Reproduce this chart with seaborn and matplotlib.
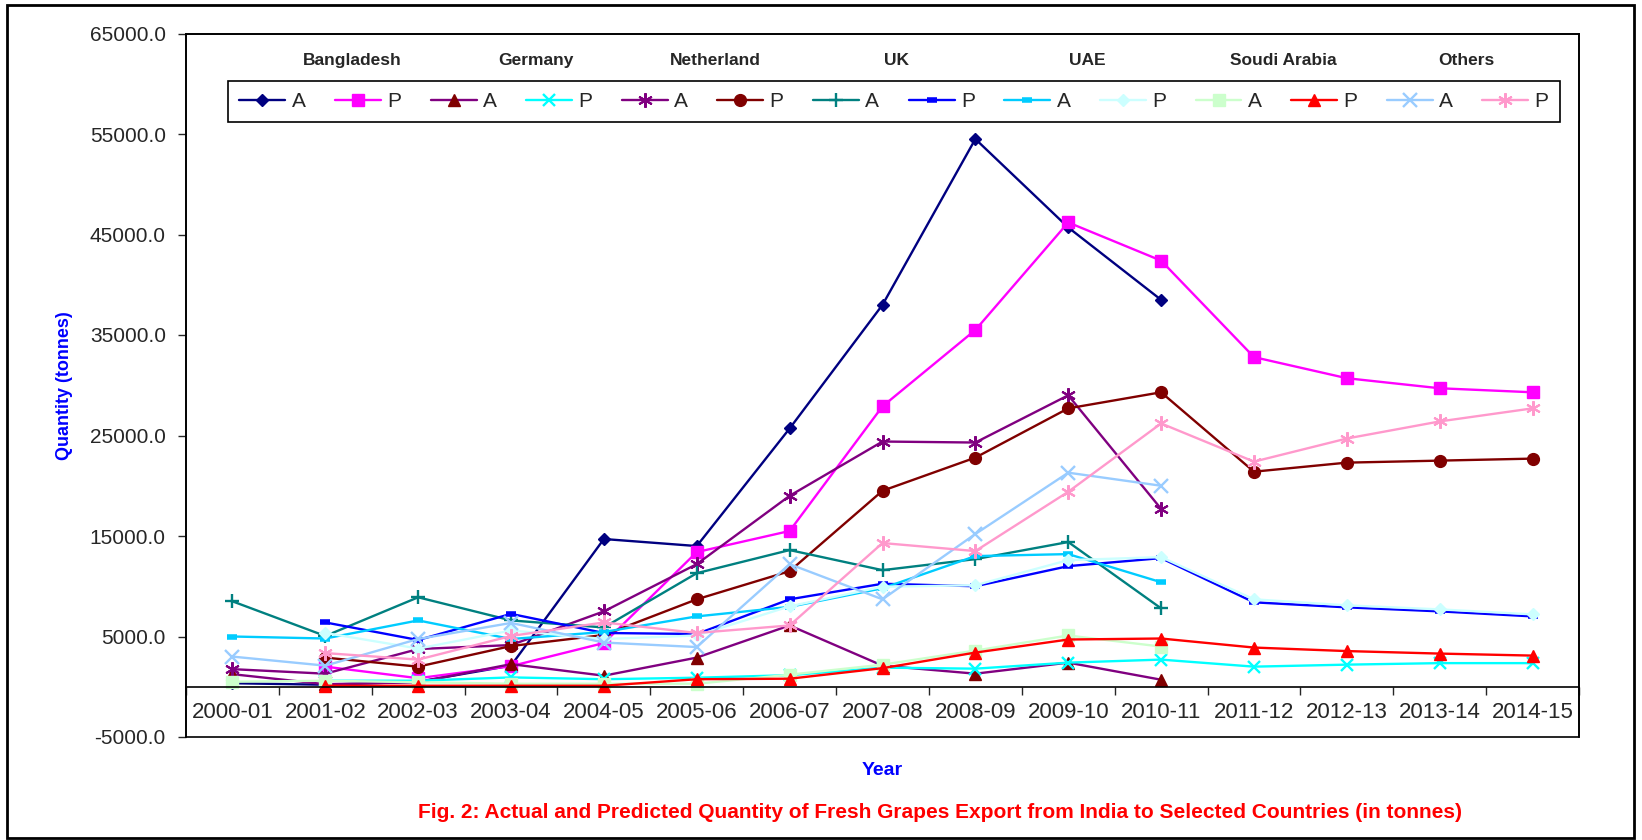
import numpy as np
import seaborn as sns
import matplotlib.pyplot as plt
from matplotlib.patches import Rectangle
from matplotlib.ticker import FormatStrFormatter

nan = np.nan

# data (tonnes)
years = ['2000-01', '2001-02', '2002-03', '2003-04', '2004-05', '2005-06', '2006-07',
         '2007-08', '2008-09', '2009-10', '2010-11', '2011-12', '2012-13', '2013-14', '2014-15']
countries = ['Bangladesh', 'Germany', 'Netherland', 'UK', 'UAE', 'Soudi Arabia', 'Others']

bangladesh_actual = [350, 200, 500, 2100, 14700, 14000, 25700, 38000, 54500, 45700, 38500, nan, nan, nan, nan]
bangladesh_pred = [nan, 2000, 850, 2050, 4350, 13400, 15500, 27900, 35500, 46200, 42400, 32800, 30700, 29700, 29300]
germany_actual = [1250, 250, 450, 2250, 1100, 2900, 6100, 2100, 1300, 2400, 700, nan, nan, nan, nan]
germany_pred = [nan, 600, 600, 930, 750, 900, 1150, 1900, 1800, 2400, 2700, 2000, 2200, 2350, 2350]
netherland_actual = [1750, 1300, 3750, 4150, 7500, 12200, 19000, 24400, 24300, 29000, 17700, nan, nan, nan, nan]
netherland_pred = [nan, 2900, 2000, 4050, 5150, 8700, 11500, 19500, 22800, 27700, 29300, 21400, 22300, 22500, 22700]
uk_actual = [8500, 5050, 8900, 6600, 5900, 11300, 13600, 11600, 12700, 14400, 7800, nan, nan, nan, nan]
uk_pred = [nan, 6400, 4650, 7250, 5350, 5250, 8700, 10250, 10000, 12000, 12800, 8400, 7900, 7500, 7000]
uae_actual = [5000, 4800, 6600, 4750, 5450, 7000, 7950, 9800, 13000, 13200, 10400, nan, nan, nan, nan]
uae_pred = [nan, 5350, 3800, 5600, 4750, 5100, 8000, 9950, 10100, 12600, 12900, 8700, 8100, 7700, 7200]
saudi_actual = [500, 600, 450, 300, 300, 300, 1200, 2200, 3600, 5100, 4000, nan, nan, nan, nan]
saudi_pred = [nan, 100, 100, 100, 100, 750, 800, 1850, 3400, 4700, 4800, 3900, 3550, 3300, 3100]
others_actual = [3000, 2100, 4750, 6350, 4400, 3950, 12200, 8700, 15200, 21300, 20000, nan, nan, nan, nan]
others_pred = [nan, 3350, 2700, 5050, 6400, 5350, 6100, 14300, 13500, 19400, 26200, 22400, 24700, 26400, 27700]

# line colour, marker colour, marker, size, edge width (Excel 2003 style)
asterisk = (6, 2, 0)
series = [
    (bangladesh_actual, 'A', '#000080', '#000080', 'D', 6, 1.0),
    (bangladesh_pred, 'P', '#FF00FF', '#FF00FF', 's', 8, 1.0),
    (germany_actual, 'A', '#800080', '#800000', '^', 9, 1.0),
    (germany_pred, 'P', '#00FFFF', '#00FFFF', 'x', 8.5, 1.7),
    (netherland_actual, 'A', '#800080', '#800080', asterisk, 10.5, 1.5),
    (netherland_pred, 'P', '#800000', '#800000', 'o', 8.5, 1.0),
    (uk_actual, 'A', '#008080', '#008080', '+', 10.5, 1.7),
    (uk_pred, 'P', '#0000FF', '#0000FF', '_', 7, 4.0),
    (uae_actual, 'A', '#00CCFF', '#00CCFF', '_', 7, 4.0),
    (uae_pred, 'P', '#CCFFFF', '#CCFFFF', 'D', 6.5, 1.0),
    (saudi_actual, 'A', '#CCFFCC', '#CCFFCC', 's', 8, 1.0),
    (saudi_pred, 'P', '#FF0000', '#FF0000', '^', 9, 1.0),
    (others_actual, 'A', '#99CCFF', '#99CCFF', 'x', 9.5, 1.7),
    (others_pred, 'P', '#FF99CC', '#FF99CC', asterisk, 10.5, 1.5),
]

sns.set_style("white")
plt.rcParams['font.family'] = ['Liberation Sans', 'DejaVu Sans']

fig = plt.figure(figsize=(16.42, 8.4), dpi=100)
ax = fig.add_axes([186 / 1642, 103 / 840, 1393 / 1642, 703.5 / 840])

x = np.arange(len(years))
for vals, lab, lc, mc, mk, ms, mew in series:
    sns.lineplot(x=x, y=vals, ax=ax, label=lab, legend=False, estimator=None, errorbar=None,
                 color=lc, linewidth=1.7, marker=mk, markersize=ms,
                 markerfacecolor=mc, markeredgecolor=mc, markeredgewidth=mew)

ax.set_xlim(-0.5, len(years) - 0.5)
ax.set_ylim(-5000, 65000)
ax.set_yticks(np.arange(-5000, 65001, 10000))
ax.yaxis.set_major_formatter(FormatStrFormatter('%.1f'))
ax.tick_params(axis='y', direction='out', length=5.5, width=1, labelsize=15, pad=9, left=True)

# category axis crosses at zero, ticks between categories
ax.spines['bottom'].set_position(('data', 0))
ax.set_xticks(np.arange(-0.5, len(years), 1))
ax.set_xticks(x, minor=True)
ax.set_xticklabels(years, minor=True)
ax.tick_params(axis='x', which='major', direction='out', length=6, width=1, bottom=True, labelbottom=False)
ax.tick_params(axis='x', which='minor', length=0, pad=11, labelsize=16, bottom=True, labelbottom=True)
for sp in ax.spines.values():
    sp.set_color('black')
    sp.set_linewidth(1.2)
ax.add_patch(Rectangle((0, 0), 1, 1, transform=ax.transAxes, fill=False,
                       edgecolor='black', linewidth=1.2, clip_on=False, zorder=5))
ax.set_xlabel('')
ax.set_ylabel('')

handles, labels = ax.get_legend_handles_labels()
leg = ax.legend(handles, labels, ncol=14, mode='expand', loc='center',
                bbox_to_anchor=(42 / 1393, (737 - 124) / 703.5, 1332 / 1393, 45 / 703.5),
                fontsize=15, handlelength=2.2, handletextpad=0.3, borderpad=0.55,
                columnspacing=0.5, borderaxespad=0, frameon=True, fancybox=False,
                edgecolor='black', framealpha=1)
leg.get_frame().set_linewidth(1.2)

label_x = [0.119, 0.251, 0.380, 0.510, 0.647, 0.788, 0.919]
for name, lx in zip(countries, label_x):
    ax.text(lx, 0.962, name, transform=ax.transAxes, ha='center', va='center',
            fontsize=12.5, fontweight='bold')

ax.text(0.5, -0.047, 'Year', transform=ax.transAxes, ha='center', va='center',
        fontsize=14, fontweight='bold', color='#0000FF')
ax.text(-0.087, 0.5, 'Quantity (tonnes)', transform=ax.transAxes, ha='center', va='center',
        rotation=90, fontsize=13, fontweight='bold', color='#0000FF')
fig.text(940 / 1642, 1 - 812 / 840,
         'Fig. 2: Actual and Predicted Quantity of Fresh Grapes Export from India to Selected Countries (in tonnes)',
         ha='center', va='center', fontsize=15, fontweight='bold', color='#FF0000')

fig.add_artist(Rectangle((7 / 1642, 2 / 840), 1627 / 1642, 833 / 840, transform=fig.transFigure,
                         fill=False, edgecolor='black', linewidth=2))

fig.savefig('out.png', dpi=100)
